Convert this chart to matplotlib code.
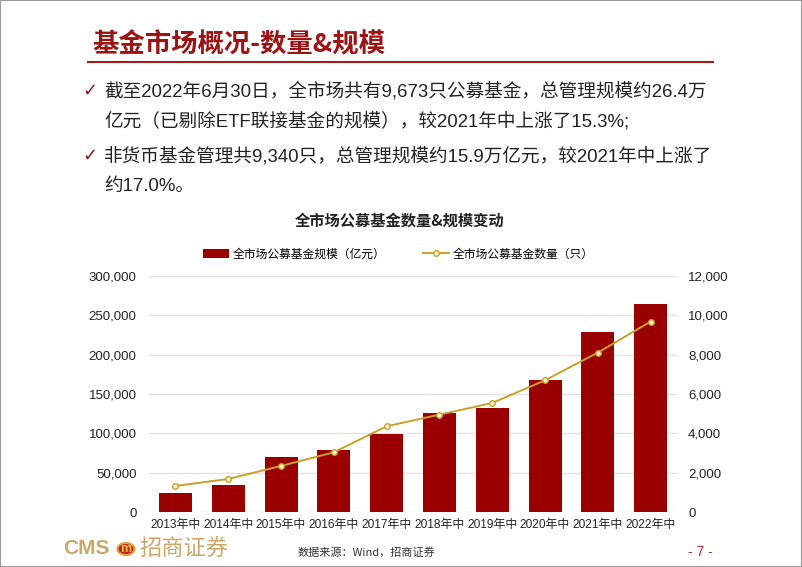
import numpy as np
import matplotlib
matplotlib.use('Agg')
import matplotlib.pyplot as plt
from matplotlib.patches import Rectangle, Circle
from matplotlib.lines import Line2D

plt.rcParams['font.family'] = ['Liberation Sans', 'Noto Sans CJK SC', 'DejaVu Sans']

# data
years = ['2013年中', '2014年中', '2015年中', '2016年中', '2017年中',
         '2018年中', '2019年中', '2020年中', '2021年中', '2022年中']
scale = [24100, 34700, 69800, 78600, 99300, 126400, 132700, 168200, 228700, 263700]   # 亿元
count = [1336, 1690, 2350, 3043, 4362, 4953, 5545, 6695, 8098, 9673]                   # 只
left_ticks = [0, 50000, 100000, 150000, 200000, 250000, 300000]
right_ticks = [0, 2000, 4000, 6000, 8000, 10000, 12000]

bullets = [
    '截至2022年6月30日，全市场共有9,673只公募基金，总管理规模约26.4万',
    '亿元（已剔除ETF联接基金的规模），较2021年中上涨了15.3%;',
    '非货币基金管理共9,340只，总管理规模约15.9万亿元，较2021年中上涨了',
    '约17.0%。',
]

RED = '#9A0000'
GOLD = '#C9A02A'
CJK = ['Liberation Sans', 'Noto Sans CJK SC']

fig = plt.figure(figsize=(8.02, 5.67), dpi=100)
W, H = 802, 567

def fx(x):
    return x / W

def fy(y):
    return 1 - y / H

# page frame
fig.patches.append(Rectangle((0, 0), 1, 1, transform=fig.transFigure, fill=False,
                             edgecolor='#9A9A9A', linewidth=1.5))

# page title + rule
fig.text(fx(92), fy(45), '基金市场概况-数量&规模', fontsize=19, fontweight='bold',
         color='#9B1414', family=['Noto Sans CJK SC'], va='center')
fig.add_artist(Line2D([fx(88), fx(713)], [fy(62), fy(62)], transform=fig.transFigure,
                      color='#A31B1B', linewidth=1.5))

# bullets
for i, (txt, y) in enumerate(zip(bullets, [91, 121, 156, 186])):
    if i in (0, 2):
        fig.text(fx(82), fy(y), '✓', fontsize=13, color='#8B1A1A', family=['DejaVu Sans'], va='center')
    fig.text(fx(104), fy(y), txt, fontsize=13.4, color='#222222', family=CJK, va='center')

# chart title and legend
fig.text(fx(400), fy(221), '全市场公募基金数量&规模变动', fontsize=11, fontweight='bold',
         color='#222222', family=['Noto Sans CJK SC'], ha='center', va='center')

ax = fig.add_axes([fx(149), fy(512.3), fx(677) - fx(149), fy(275.7) - fy(512.3)])
x = np.arange(len(years))
bars = ax.bar(x, scale, width=0.625, color=RED, zorder=2, label='全市场公募基金规模（亿元）')
ax.set_ylim(0, 300000)
ax.set_xlim(-0.5, len(years) - 0.5)
ax.set_yticks(left_ticks)
ax.set_yticklabels([f'{v:,}' for v in left_ticks])
ax.grid(axis='y', color='#E3E3E3', linewidth=1, zorder=0)
ax.set_xticks(x)
ax.set_xticklabels(years, family=CJK, fontsize=8.6)
for s in ax.spines.values():
    s.set_visible(False)
ax.tick_params(axis='y', length=0, labelsize=9.5, colors='#222222', pad=9)
ax.tick_params(axis='x', length=0, colors='#222222', pad=5)

ax2 = ax.twinx()
ln, = ax2.plot(x, count, color=GOLD, linewidth=1.4, marker='o', markersize=4,
               markerfacecolor='#FFF3CF', markeredgecolor=GOLD, markeredgewidth=1,
               zorder=3, label='全市场公募基金数量（只）')
ax2.set_ylim(0, 12000)
ax2.set_yticks(right_ticks)
ax2.set_yticklabels([f'{v:,}' for v in right_ticks])
for s in ax2.spines.values():
    s.set_visible(False)
ax2.tick_params(axis='y', length=0, labelsize=9.5, colors='#222222', pad=8)

fig.legend(handles=[bars, ln], loc='center', bbox_to_anchor=(fx(398), fy(254)), ncol=2,
           frameon=False, handlelength=2.2, columnspacing=3.2, handletextpad=0.3,
           prop={'family': ['Noto Sans CJK SC'], 'size': 8.5})

# footer
fig.text(fx(63), fy(549), 'CMS', fontsize=15, color='#C9A86A', fontweight='bold',
         family=['Liberation Sans'], va='center')
fig.patches.append(Circle((fx(126), fy(549)), 8.5 / W, transform=fig.transFigure,
                          facecolor='#B8261E', edgecolor='#D9A441', linewidth=1.5))
fig.text(fx(126), fy(549), 'm', fontsize=9, color='#F2C04A', fontweight='bold',
         ha='center', va='center', family=['Liberation Sans'])
fig.text(fx(139), fy(549), '招商证券', fontsize=16, color='#C9A86A',
         family=['Noto Sans CJK SC'], va='center')
fig.text(fx(298), fy(552), '数据来源：Wind，招商证券', fontsize=8, color='#333333',
         family=['Noto Sans CJK SC'], va='center')
fig.text(fx(700), fy(552), '- 7 -', fontsize=10, color='#B03030', ha='center', va='center')

fig.savefig('out.png', dpi=100)
